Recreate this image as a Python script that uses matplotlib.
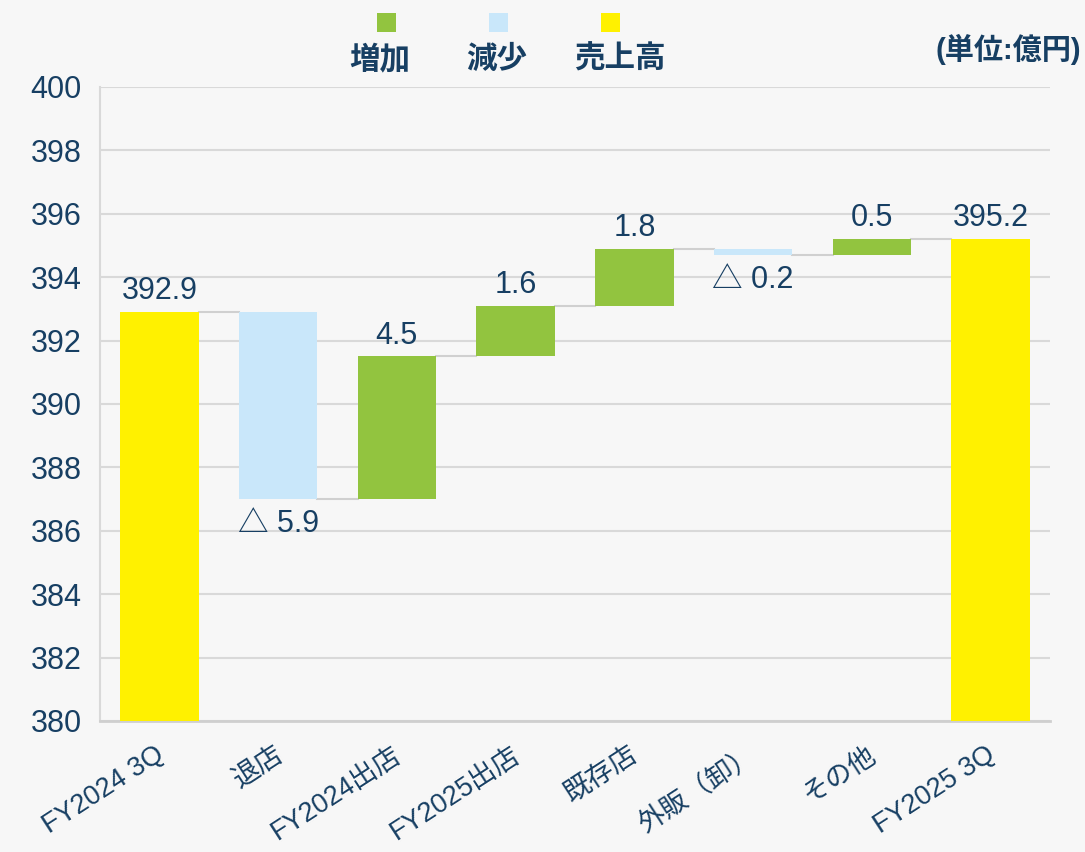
import matplotlib
matplotlib.use("Agg")
import matplotlib.pyplot as plt
from matplotlib.patches import Rectangle
from matplotlib.transforms import ScaledTranslation

plt.rcParams['font.family'] = ['Liberation Sans', 'Noto Sans CJK JP', 'DejaVu Sans']

categories = ["FY2024 3Q", "退店", "FY2024出店", "FY2025出店", "既存店", "外販（卸）", "その他", "FY2025 3Q"]
changes = [392.9, -5.9, 4.5, 1.6, 1.8, -0.2, 0.5, 395.2]
kinds = ["total", "change", "change", "change", "change", "change", "change", "total"]
value_labels = ["392.9", "△ 5.9", "4.5", "1.6", "1.8", "△ 0.2", "0.5", "395.2"]
legend_labels = ["増加", "減少", "売上高"]
unit_label = "(単位:億円)"
y_ticks = list(range(380, 401, 2))

GREEN = "#92c43f"
BLUE = "#c9e7fa"
YELLOW = "#fff100"
TEXT = "#173f63"
BG = "#f7f7f7"
GRID = "#d9d9d9"

fig = plt.figure(figsize=(10.85, 8.52), dpi=100, facecolor=BG)
ax = fig.add_axes([100/1085, 1-721/852, 950/1085, (721-87)/852])
ax.set_facecolor(BG)

bottoms, heights, colors, levels = [], [], [], []
level = 0.0
for v, k in zip(changes, kinds):
    if k == "total":
        bottoms.append(0)
        heights.append(v)
        colors.append(YELLOW)
        level = v
    else:
        new = level + v
        bottoms.append(min(level, new))
        heights.append(abs(v))
        colors.append(GREEN if v > 0 else BLUE)
        level = new
    levels.append(level)

x = list(range(len(categories)))
width = 0.66
ax.bar(x, heights, bottom=bottoms, width=width, color=colors, zorder=3, linewidth=0)

# connectors
for i in range(len(x) - 1):
    ax.plot([x[i] + width/2, x[i+1] - width/2], [levels[i], levels[i]],
            color="#d0d0d0", lw=1.5, zorder=2)

# value labels
for i, (v, k, lab) in enumerate(zip(changes, kinds, value_labels)):
    top = bottoms[i] + heights[i]
    if k == "total" or v > 0:
        ax.text(x[i], top + 0.18, lab, ha="center", va="bottom", fontsize=22, color=TEXT, zorder=4)
    else:
        ax.text(x[i], bottoms[i] - 0.3, lab, ha="center", va="top", fontsize=22, color=TEXT, zorder=4)

ax.set_xlim(-0.5, len(categories) - 0.5)
ax.set_ylim(380, 400)
ax.set_yticks(y_ticks)
ax.set_yticklabels([str(t) for t in y_ticks], fontsize=22, color=TEXT)
ax.set_xticks(x)
ax.set_xticklabels(categories, fontsize=19.5, color=TEXT, rotation=33, ha="right", va="top",
                   rotation_mode="anchor")
ax.tick_params(axis="both", length=0)
ax.tick_params(axis="y", pad=13)
ax.tick_params(axis="x", pad=15)
for lbl in ax.get_xticklabels():
    lbl.set_transform(lbl.get_transform() + ScaledTranslation(-5/100, 0, fig.dpi_scale_trans))
ax.yaxis.grid(True, color=GRID, lw=1.5, zorder=0)
ax.set_axisbelow(True)
for s in ["top", "right"]:
    ax.spines[s].set_visible(False)
ax.spines["left"].set_color(GRID)
ax.spines["left"].set_linewidth(1.5)
ax.spines["bottom"].set_color("#cfcfcf")
ax.spines["bottom"].set_linewidth(2)

# legend (markers above text)
leg_x = [386/1085, 498/1085, 610/1085]
leg_text_x = [380/1085, 497/1085, 620/1085]
leg_colors = [GREEN, BLUE, YELLOW]
sq_w, sq_h = 19/1085, 19/852
for lx, tx, c, lab in zip(leg_x, leg_text_x, leg_colors, legend_labels):
    fig.add_artist(Rectangle((lx - sq_w/2, 1 - 32/852), sq_w, sq_h, transform=fig.transFigure,
                             facecolor=c, edgecolor="none"))
    fig.text(tx, 1 - 60/852, lab, ha="center", va="center",
             fontsize=22, fontweight="bold", color=TEXT)

fig.text(1081/1085, 1 - 49/852, unit_label, ha="right", va="center", fontsize=21,
         fontweight="bold", color=TEXT)

fig.savefig("out.png", dpi=100, facecolor=BG)
